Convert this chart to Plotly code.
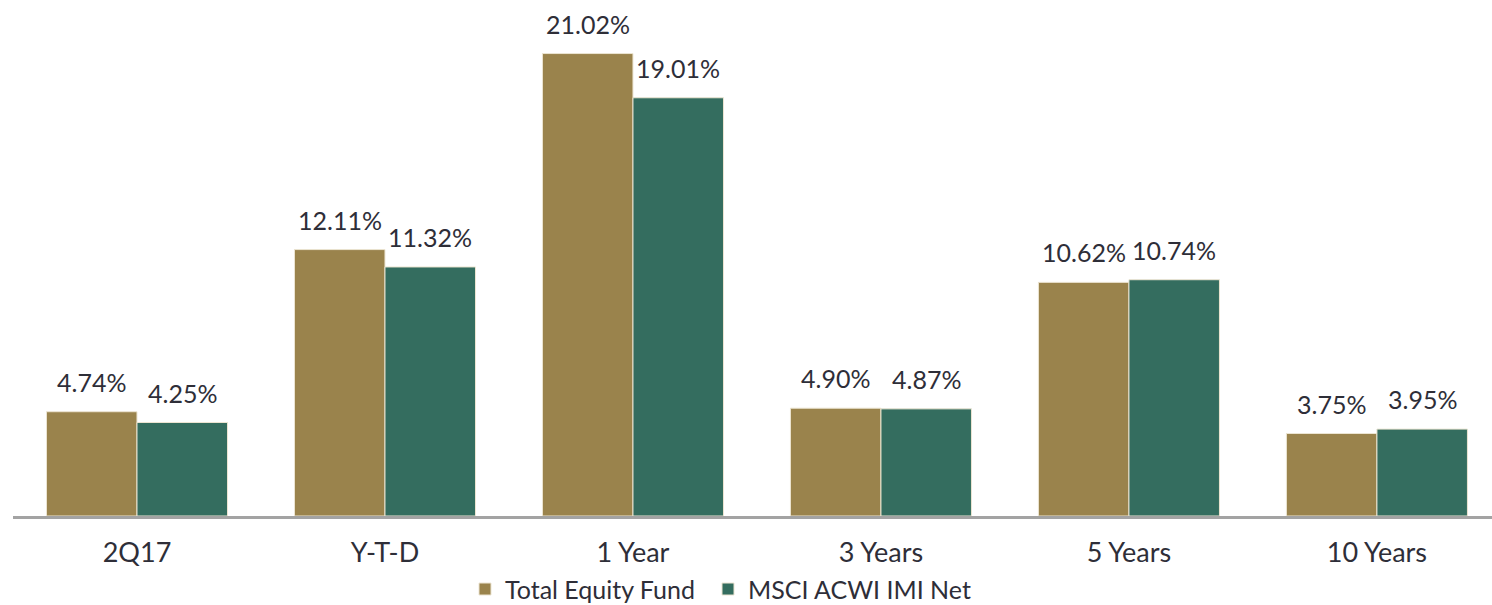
import plotly.graph_objects as go

# Periods and returns (%)
categories = ["2Q17", "Y-T-D", "1 Year", "3 Years", "5 Years", "10 Years"]
fund_returns = [4.74, 12.11, 21.02, 4.90, 10.62, 3.75]
index_returns = [4.25, 11.32, 19.01, 4.87, 10.74, 3.95]
fund_name = "Total Equity Fund"
index_name = "MSCI ACWI IMI Net"

GOLD = "#9a834c"
TEAL = "#346d5f"
TEXT = "#2e2e38"
FONT = "Lato"

BARGAP = 0.27
half = (1 - BARGAP) / 4  # offset of each bar centre from the category centre

fig = go.Figure()
fig.add_trace(go.Bar(
    x=categories, y=fund_returns, name=fund_name, legend="legend",
    showlegend=True,
    marker=dict(color=GOLD, line=dict(color="#ece5d2", width=1)),
))
fig.add_trace(go.Bar(
    x=categories, y=index_returns, name=index_name, legend="legend2",
    showlegend=True,
    marker=dict(color=TEAL, line=dict(color="#ece5d2", width=1)),
))

# Value labels above each bar
for i, (f, m) in enumerate(zip(fund_returns, index_returns)):
    for dx, v in ((-half, f), (half, m)):
        fig.add_annotation(
            x=i + dx, y=v, xref="x", yref="y",
            text=f"{v:.2f}%", showarrow=False,
            yanchor="middle", yshift=30,
            font=dict(family=FONT, size=25, color=TEXT),
        )

legend_style = dict(
    orientation="h", xref="container", xanchor="left",
    yref="container", y=0.026, yanchor="middle",
    bgcolor="rgba(0,0,0,0)",
    font=dict(family=FONT, size=25, color=TEXT),
    itemwidth=30,
)

fig.update_layout(
    width=1492, height=605,
    margin=dict(l=13, r=0, t=10, b=89, autoexpand=False),
    paper_bgcolor="white", plot_bgcolor="white",
    barmode="group", bargap=BARGAP, bargroupgap=0,
    font=dict(family=FONT, color=TEXT),
    showlegend=True,
    legend=dict(legend_style, x=465 / 1492),
    legend2=dict(legend_style, x=708 / 1492),
    xaxis=dict(
        type="category", range=[-0.5, 5.464],
        showline=True, linecolor="#a3a3a3", linewidth=3,
        showgrid=False, ticks="", ticklabelstandoff=11,
        tickfont=dict(family=FONT, size=27, color=TEXT),
    ),
    yaxis=dict(
        range=[0, 23], visible=False, showgrid=False, zeroline=False,
    ),
)

fig.write_html("out.html")
